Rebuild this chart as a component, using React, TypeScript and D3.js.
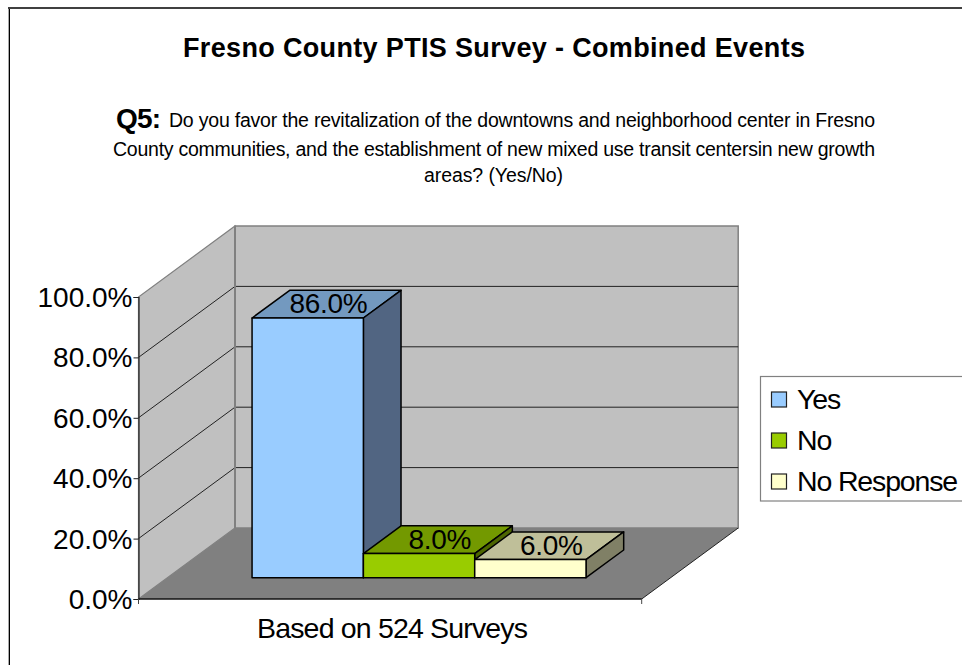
import React, { useEffect, useRef } from 'react';
import * as d3 from 'd3';

const categories = ['Yes', 'No', 'No Response'];
const values = [86, 8, 6];
const frontColors = ['#99ccff', '#99cc00', '#ffffcc'];
const topColors = ['#7399bf', '#739900', '#bfbf99'];
const sideColors = ['#516582', '#4d6600', '#808066'];
const axisTicks = [0, 20, 40, 60, 80, 100];
const axisLabel = 'Based on 524 Surveys';
const titleText = 'Fresno County PTIS Survey - Combined Events';
const questionLines = [
  'Do you favor the revitalization of the downtowns and neighborhood center in Fresno',
  'County communities, and the establishment of new mixed use transit centersin new growth',
  'areas? (Yes/No)',
];

const FONT = '"Liberation Sans", Arial, sans-serif';
const W = 962, H = 665;

export default function App() {
  const ref = useRef<SVGSVGElement>(null);

  useEffect(() => {
    const svg = d3.select(ref.current);
    svg.selectAll('*').remove();

    // front plane of the box
    const y = d3.scaleLinear().domain([0, 100]).range([599, 297]);
    const x = d3.scaleBand<string>().domain(categories).range([138.5, 641.7]).paddingInner(0).paddingOuter(0.76);
    // depth goes from front (0) to back wall (1)
    const depthX = d3.scaleLinear().domain([0, 1]).range([0, 96.5]);
    const depthY = d3.scaleLinear().domain([0, 1]).range([0, -71]);
    const pt = (px: number, v: number, z: number): [number, number] => [px + depthX(z), y(v) + depthY(z)];
    const poly = (pts: [number, number][]) => d3.line()(pts) + 'Z';

    const x0 = x.range()[0], x1 = x.range()[1];

    svg.append('rect').attr('width', W).attr('height', H).attr('fill', '#fff');
    // outer frame, runs off the picture to the right and bottom
    svg.append('line').attr('x1', 8.5).attr('x2', 8.5).attr('y1', 7).attr('y2', H).attr('stroke', '#aaa');
    svg.append('line').attr('x1', 9.5).attr('x2', 9.5).attr('y1', 8).attr('y2', H).attr('stroke', '#000');
    svg.append('line').attr('x1', 8).attr('x2', W).attr('y1', 8).attr('y2', 8).attr('stroke', '#404040').attr('stroke-width', 2);

    // walls
    svg.append('path').attr('d', poly([pt(x0, 0, 1), pt(x1, 0, 1), pt(x1, 100, 1), pt(x0, 100, 1)]))
      .attr('fill', '#c0c0c0').attr('stroke', '#808080').attr('stroke-width', 1.5);
    svg.append('path').attr('d', poly([pt(x0, 0, 0), pt(x0, 0, 1), pt(x0, 100, 1), pt(x0, 100, 0)]))
      .attr('fill', '#c0c0c0').attr('stroke', '#808080').attr('stroke-width', 1.2);
    svg.append('path').attr('d', poly([pt(x0, 0, 0), pt(x1, 0, 0), pt(x1, 0, 1), pt(x0, 0, 1)]))
      .attr('fill', '#808080');

    // gridlines
    axisTicks.filter(t => t > 0 && t < 100).forEach(t => {
      svg.append('path').attr('d', d3.line()([pt(x0, t, 0), pt(x0, t, 1), pt(x1, t, 1)]))
        .attr('fill', 'none').attr('stroke', '#222').attr('stroke-width', 1);
    });
    svg.append('path').attr('d', d3.line()([pt(x1, 0, 0), pt(x1, 0, 1)]))
      .attr('fill', 'none').attr('stroke', '#222').attr('stroke-width', 1);
    // back wall vertical edge stays above the gridlines
    svg.append('path').attr('d', d3.line()([pt(x0, 0, 1), pt(x0, 100, 1)]))
      .attr('fill', 'none').attr('stroke', '#808080').attr('stroke-width', 2);

    // bars
    const zFront = 0.3, zBack = 0.69;
    categories.forEach((c, i) => {
      const a = x(c) as number, b = a + x.bandwidth(), v = values[i];
      const g = svg.append('g').attr('stroke', '#000').attr('stroke-width', 1.5).attr('stroke-linejoin', 'round');
      g.append('path').attr('d', poly([pt(a, v, zFront), pt(b, v, zFront), pt(b, v, zBack), pt(a, v, zBack)])).attr('fill', topColors[i]);
      g.append('path').attr('d', poly([pt(b, 0, zFront), pt(b, v, zFront), pt(b, v, zBack), pt(b, 0, zBack)])).attr('fill', sideColors[i]);
      g.append('path').attr('d', poly([pt(a, 0, zFront), pt(b, 0, zFront), pt(b, v, zFront), pt(a, v, zFront)])).attr('fill', frontColors[i]);
    });
    categories.forEach((c, i) => {
      const a = x(c) as number;
      const [lx, ly] = pt(a + x.bandwidth() / 2, values[i], (zFront + zBack) / 2);
      svg.append('text').attr('x', lx + 2).attr('y', ly + 9).attr('text-anchor', 'middle')
        .attr('font-family', FONT).attr('font-size', 28).attr('letter-spacing', -0.3).attr('fill', '#000')
        .text(values[i].toFixed(1) + '%');
    });

    // value axis
    const axisG = svg.append('g').attr('transform', `translate(${x0},0)`)
      .call(d3.axisLeft(y).tickValues(axisTicks).tickSize(5).tickPadding(1).tickFormat(d => (+d).toFixed(1) + '%'));
    axisG.select('.domain').attr('stroke', '#222').attr('stroke-width', 1.2);
    axisG.selectAll('line').attr('stroke', '#222');
    axisG.selectAll('text').attr('font-family', FONT).attr('font-size', 28).attr('letter-spacing', 0)
      .attr('dy', '0.34em').attr('fill', '#000');

    // category axis
    svg.append('path').attr('d', d3.line()([pt(x0, 0, 0), pt(x1, 0, 0)])).attr('stroke', '#111').attr('stroke-width', 1.5);
    [x0, x1].forEach(px => {
      svg.append('line').attr('x1', px).attr('x2', px).attr('y1', y(0)).attr('y2', y(0) + 5).attr('stroke', '#444');
    });
    svg.append('text').attr('x', 257).attr('y', 638).attr('font-family', FONT)
      .attr('font-size', 28.5).attr('textLength', 271).attr('lengthAdjust', 'spacing').attr('fill', '#000').text(axisLabel);

    // title
    svg.append('text').attr('x', 183).attr('y', 57).attr('font-family', FONT)
      .attr('font-weight', 'bold').attr('font-size', 27).attr('textLength', 622).attr('lengthAdjust', 'spacing')
      .attr('fill', '#000').text(titleText);

    // question
    svg.append('text').attr('x', 116).attr('y', 128).attr('font-family', FONT).attr('font-weight', 'bold')
      .attr('font-size', 28).attr('textLength', 45).attr('lengthAdjust', 'spacing').attr('fill', '#000').text('Q5:');
    const qAttrs = [
      { x: 169, y: 127, len: 706 },
      { x: 113, y: 156, len: 762 },
      { x: 424, y: 182, len: 139 },
    ];
    questionLines.forEach((l, i) => {
      svg.append('text').attr('x', qAttrs[i].x).attr('y', qAttrs[i].y).attr('font-family', FONT).attr('font-size', 19.5)
        .attr('textLength', qAttrs[i].len).attr('lengthAdjust', 'spacing').attr('fill', '#000').text(l);
    });

    // legend
    svg.append('rect').attr('x', 760.5).attr('y', 376.5).attr('width', W).attr('height', 124.5)
      .attr('fill', '#fff').attr('stroke', '#808080').attr('stroke-width', 1.2);
    const legendY = d3.scalePoint<string>().domain(categories).range([400, 482]);
    categories.forEach((c, i) => {
      const cy = legendY(c) as number;
      svg.append('rect').attr('x', 771.5).attr('y', cy - 8).attr('width', 15).attr('height', 15)
        .attr('fill', frontColors[i]).attr('stroke', '#222').attr('stroke-width', 1.2);
      svg.append('text').attr('x', 797).attr('y', cy + 9).attr('font-family', FONT).attr('font-size', 28.5)
        .attr('letter-spacing', -1.15).attr('fill', '#000').text(c);
    });
  }, []);

  return <svg ref={ref} width={W} height={H} style={{ position: 'absolute', left: 0, top: 0, display: 'block' }} />;
}
